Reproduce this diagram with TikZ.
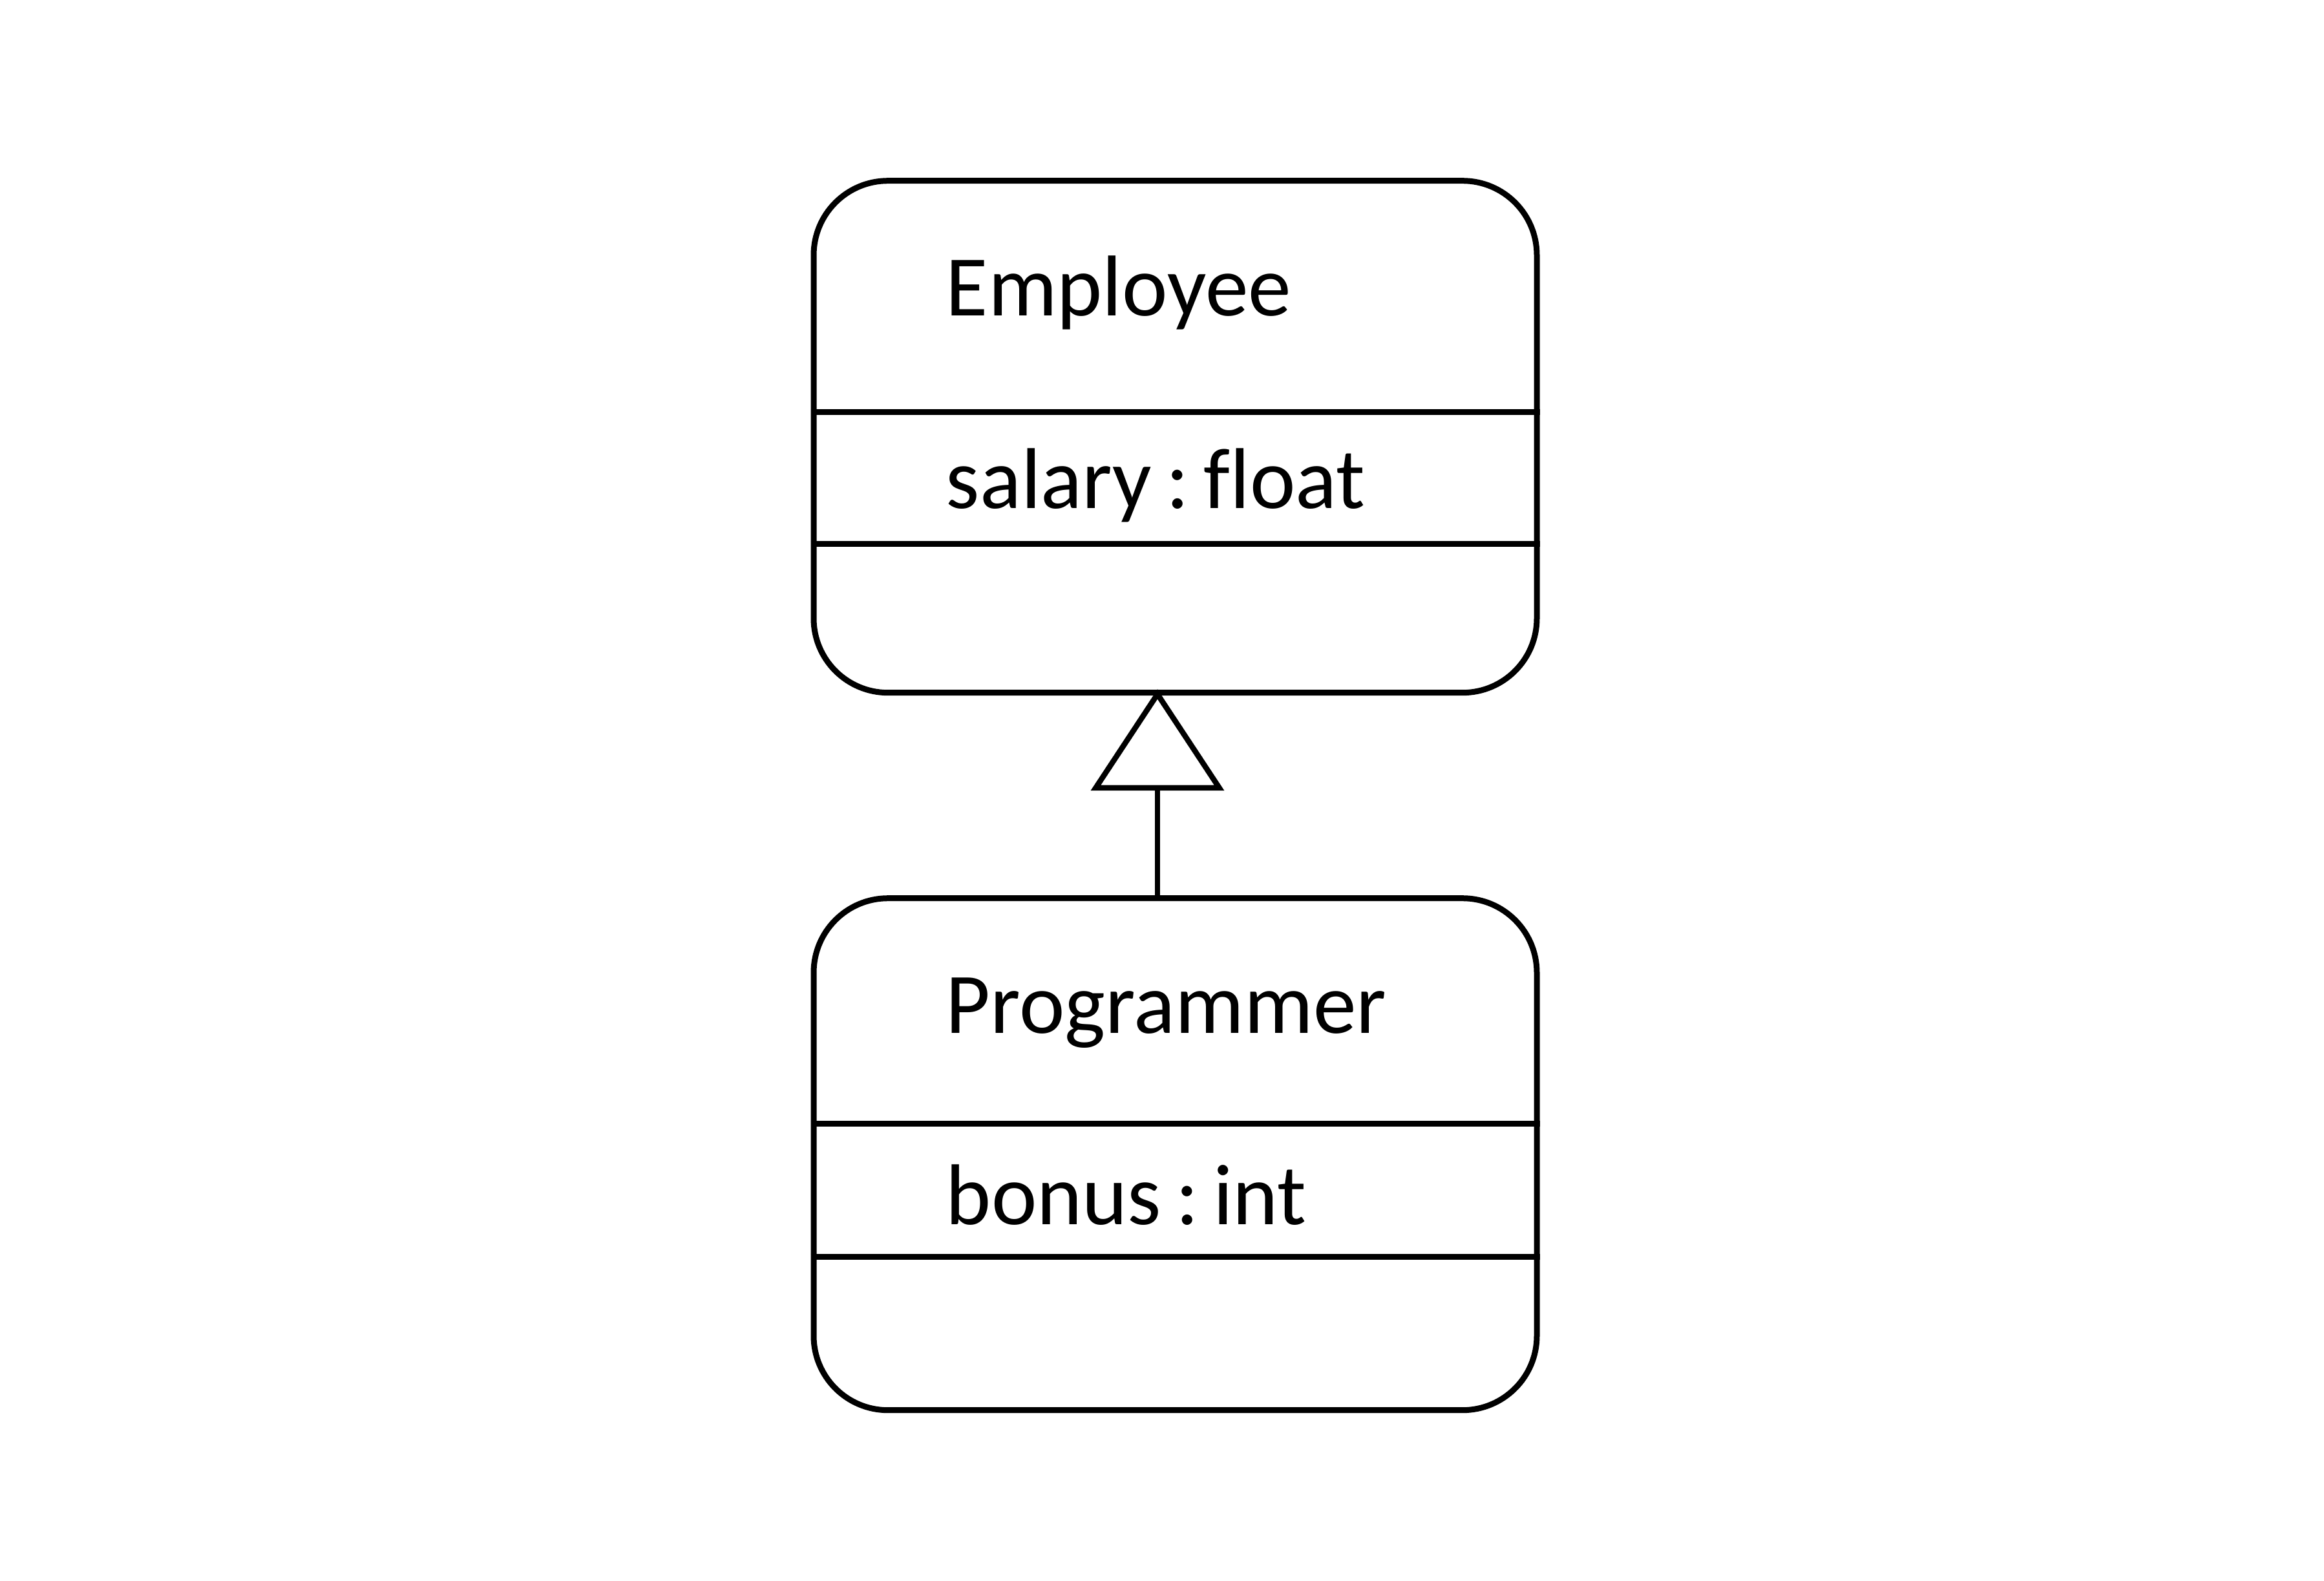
\documentclass[tikz,border=0pt]{standalone}
\usepackage{fontspec}
\setmainfont[Ligatures=NoCommon]{Carlito}
\usetikzlibrary{arrows.meta}
\begin{document}
\begin{tikzpicture}[x=1cm,y=-1cm]
\tikzset{
  classbox/.style={draw, line width=0.09cm, rounded corners=1.15cm, minimum width=11.19cm, minimum height=7.92cm, inner sep=0pt, anchor=north west},
  sep/.style={line width=0.09cm},
  lbl/.style={anchor=base west, inner sep=0pt, font=\fontsize{38}{45}\selectfont},
  inherit/.style={line width=0.085cm, shorten >=-0.1cm, -{Triangle[open, length=1.57cm, width=2.05cm, line width=0.085cm]}}
}
\fill[white] (0,0) rectangle (35.96,24.46);
\useasboundingbox (0,0) rectangle (35.96,24.46);
\node[classbox] (emp) at (12.545,2.752) {};
\node[classbox] (prog) at (12.545,13.852) {};
\draw[sep] (emp.west |- 0,6.376) -- (emp.east |- 0,6.376);
\draw[sep] (emp.west |- 0,8.417) -- (emp.east |- 0,8.417);
\draw[sep] (prog.west |- 0,17.384) -- (prog.east |- 0,17.384);
\draw[sep] (prog.west |- 0,19.448) -- (prog.east |- 0,19.448);
\node[lbl] (empname) at (14.632,4.885) {Employee};
\node[lbl] (empattr) at (14.632,7.866) {salary\,:\,float};
\node[lbl] (progname) at (14.632,15.985) {Programmer};
\node[lbl] (progattr) at (14.632,18.94) {bonus\,:\,int};
\draw[inherit] ([xshift=-0.275cm]prog.north) -- ([xshift=-0.275cm]emp.south);
\end{tikzpicture}
\end{document}
